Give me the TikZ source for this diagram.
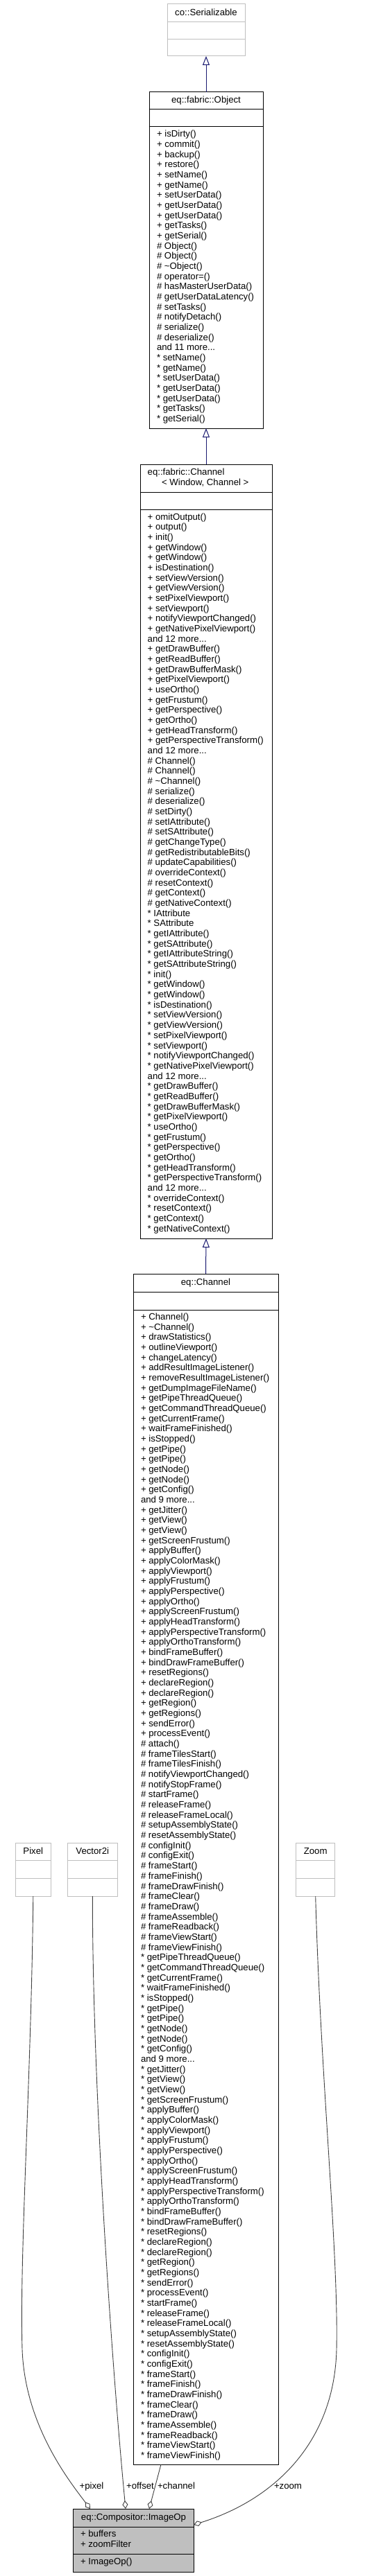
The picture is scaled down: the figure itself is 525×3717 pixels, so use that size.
\documentclass[tikz,border=0pt]{standalone}
\usepackage{fontspec}
\setmainfont{Liberation Sans}
\usetikzlibrary{arrows.meta}
\definecolor{inhblue}{RGB}{25,25,112}
\definecolor{aggray}{RGB}{64,64,64}
\definecolor{extgray}{RGB}{191,191,191}
\newcommand\mfont{\fontsize{13.2pt}{14.67pt}\selectfont}
\newcommand\mdots{...}
\newcommand\mlist[4]{%
  \foreach \t [count=\k from 0] in {#4}{%
    \node[member] (#1-\k) at ({#2},{#3+\k*14.67}) {\t};
  }%
}
\begin{document}
\begin{tikzpicture}[x=1pt,y=-1pt,
  classbox/.style={draw=black, line width=1pt, fill=white, inner sep=0pt, outer sep=0pt, anchor=north west},
  extbox/.style={classbox, draw=extgray},
  opbox/.style={classbox, fill=extgray},
  sepline/.style={line width=1pt, draw=black},
  extsep/.style={line width=1pt, draw=extgray},
  member/.style={anchor=west, inner sep=0pt, outer sep=0pt, text height=9.6pt, text depth=2.7pt, font=\mfont},
  ctitle/.style={anchor=center, inner sep=0pt, outer sep=0pt, text height=9.6pt, text depth=2.7pt, font=\mfont},
  inh/.style={draw=inhblue, line width=1pt, -{Triangle[open,length=13pt,width=10pt]}},
  agg/.style={draw=aggray, line width=0.9pt, -{Diamond[open,length=12pt,width=8pt]}},
  elabel/.style={ctitle}
]
\fill[white] (0,0) rectangle (525,3717);
\useasboundingbox (0,0) rectangle (525,3717);

% ---- co::Serializable
\node[extbox, minimum width=112pt, minimum height=75pt] (ser) at (241,6) {};
\draw[extsep] (241,32) -- (353,32);
\draw[extsep] (241,57) -- (353,57);
\node[ctitle] (ser-t) at (297,19) {co::Serializable};

% ---- eq::fabric::Object
\node[classbox, minimum width=164pt, minimum height=485pt] (obj) at (215,133) {};
\draw[sepline] (215,158) -- (379,158);
\draw[sepline] (215,183) -- (379,183);
\node[ctitle] (obj-t) at (297,145.5) {eq::fabric::Object};
\mlist{obj}{226}{194.3}{+ isDirty(), + commit(), + backup(), + restore(), + setName(), + getName(), + setUserData(), + getUserData(), + getUserData(), + getTasks(), + getSerial(), \# Object(), \# Object(), \# \textasciitilde Object(), \# operator=(), \# hasMasterUserData(), \# getUserDataLatency(), \# setTasks(), \# notifyDetach(), \# serialize(), \# deserialize(), and 11 more\mdots, * setName(), * getName(), * setUserData(), * getUserData(), * getUserData(), * getTasks(), * getSerial()}

% ---- eq::fabric::Channel< Window, Channel >
\node[classbox, minimum width=190pt, minimum height=1117pt] (fch) at (202,670) {};
\draw[sepline] (202,710) -- (392,710);
\draw[sepline] (202,735) -- (392,735);
\node[member] (fch-t1) at (212.7,681.7) {eq::fabric::Channel};
\node[member] (fch-t2) at (233,696.7) {< Window, Channel >};
\mlist{fch}{212.7}{746.7}{+ omitOutput(), + output(), + init(), + getWindow(), + getWindow(), + isDestination(), + setViewVersion(), + getViewVersion(), + setPixelViewport(), + setViewport(), + notifyViewportChanged(), + getNativePixelViewport(), and 12 more\mdots, + getDrawBuffer(), + getReadBuffer(), + getDrawBufferMask(), + getPixelViewport(), + useOrtho(), + getFrustum(), + getPerspective(), + getOrtho(), + getHeadTransform(), + getPerspectiveTransform(), and 12 more\mdots, \# Channel(), \# Channel(), \# \textasciitilde Channel(), \# serialize(), \# deserialize(), \# setDirty(), \# setIAttribute(), \# setSAttribute(), \# getChangeType(), \# getRedistributableBits(), \# updateCapabilities(), \# overrideContext(), \# resetContext(), \# getContext(), \# getNativeContext(), * IAttribute, * SAttribute, * getIAttribute(), * getSAttribute(), * getIAttributeString(), * getSAttributeString(), * init(), * getWindow(), * getWindow(), * isDestination(), * setViewVersion(), * getViewVersion(), * setPixelViewport(), * setViewport(), * notifyViewportChanged(), * getNativePixelViewport(), and 12 more\mdots, * getDrawBuffer(), * getReadBuffer(), * getDrawBufferMask(), * getPixelViewport(), * useOrtho(), * getFrustum(), * getPerspective(), * getOrtho(), * getHeadTransform(), * getPerspectiveTransform(), and 12 more\mdots, * overrideContext(), * resetContext(), * getContext(), * getNativeContext()}

% ---- eq::Channel
\node[classbox, minimum width=209pt, minimum height=1718pt] (ch) at (192,1838) {};
\draw[sepline] (192,1864) -- (401,1864);
\draw[sepline] (192,1890) -- (401,1890);
\node[ctitle] (ch-t) at (296.5,1851) {eq::Channel};
\mlist{ch}{203}{1901}{+ Channel(), + \textasciitilde Channel(), + drawStatistics(), + outlineViewport(), + changeLatency(), + addResultImageListener(), + removeResultImageListener(), + getDumpImageFileName(), + getPipeThreadQueue(), + getCommandThreadQueue(), + getCurrentFrame(), + waitFrameFinished(), + isStopped(), + getPipe(), + getPipe(), + getNode(), + getNode(), + getConfig(), and 9 more\mdots, + getJitter(), + getView(), + getView(), + getScreenFrustum(), + applyBuffer(), + applyColorMask(), + applyViewport(), + applyFrustum(), + applyPerspective(), + applyOrtho(), + applyScreenFrustum(), + applyHeadTransform(), + applyPerspectiveTransform(), + applyOrthoTransform(), + bindFrameBuffer(), + bindDrawFrameBuffer(), + resetRegions(), + declareRegion(), + declareRegion(), + getRegion(), + getRegions(), + sendError(), + processEvent(), \# attach(), \# frameTilesStart(), \# frameTilesFinish(), \# notifyViewportChanged(), \# notifyStopFrame(), \# startFrame(), \# releaseFrame(), \# releaseFrameLocal(), \# setupAssemblyState(), \# resetAssemblyState(), \# configInit(), \# configExit(), \# frameStart(), \# frameFinish(), \# frameDrawFinish(), \# frameClear(), \# frameDraw(), \# frameAssemble(), \# frameReadback(), \# frameViewStart(), \# frameViewFinish(), * getPipeThreadQueue(), * getCommandThreadQueue(), * getCurrentFrame(), * waitFrameFinished(), * isStopped(), * getPipe(), * getPipe(), * getNode(), * getNode(), * getConfig(), and 9 more\mdots, * getJitter(), * getView(), * getView(), * getScreenFrustum(), * applyBuffer(), * applyColorMask(), * applyViewport(), * applyFrustum(), * applyPerspective(), * applyOrtho(), * applyScreenFrustum(), * applyHeadTransform(), * applyPerspectiveTransform(), * applyOrthoTransform(), * bindFrameBuffer(), * bindDrawFrameBuffer(), * resetRegions(), * declareRegion(), * declareRegion(), * getRegion(), * getRegions(), * sendError(), * processEvent(), * startFrame(), * releaseFrame(), * releaseFrameLocal(), * setupAssemblyState(), * resetAssemblyState(), * configInit(), * configExit(), * frameStart(), * frameFinish(), * frameDrawFinish(), * frameClear(), * frameDraw(), * frameAssemble(), * frameReadback(), * frameViewStart(), * frameViewFinish()}

% ---- Pixel, Vector2i, Zoom
\node[extbox, minimum width=51pt, minimum height=77pt] (pix) at (22.3,2659) {};
\draw[extsep] (22.3,2684) -- (73.3,2684);
\draw[extsep] (22.3,2710) -- (73.3,2710);
\node[ctitle] (pix-t) at (47.8,2672) {Pixel};

\node[extbox, minimum width=71.3pt, minimum height=77pt] (v2) at (97.7,2659) {};
\draw[extsep] (97.7,2684) -- (169,2684);
\draw[extsep] (97.7,2710) -- (169,2710);
\node[ctitle] (v2-t) at (133.3,2672) {Vector2i};

\node[extbox, minimum width=56pt, minimum height=77pt] (zm) at (426.7,2659) {};
\draw[extsep] (426.7,2684) -- (482.7,2684);
\draw[extsep] (426.7,2710) -- (482.7,2710);
\node[ctitle] (zm-t) at (454.7,2672) {Zoom};

% ---- eq::Compositor::ImageOp
\node[opbox, minimum width=173.6pt, minimum height=91pt] (io) at (105.7,3620) {};
\draw[sepline] (105.7,3646) -- (279.3,3646);
\draw[sepline] (105.7,3685) -- (279.3,3685);
\node[ctitle] (io-t) at (192.5,3633) {eq::Compositor::ImageOp};
\node[member] (io-a1) at (116,3657) {+ buffers};
\node[member] (io-a2) at (116,3672) {+ zoomFilter};
\node[member] (io-m1) at (116,3697) {+ ImageOp()};

% ---- inheritance
\draw[inh] (obj.north) -- (ser.south);
\draw[inh] (fch.north) -- (obj.south);
\draw[inh] (ch.north) -- (fch.south);

% ---- aggregation
\draw[agg] (pix.south) .. controls (45,3000) and (28,3250) .. (32,3390)
  .. controls (36,3500) and (100,3580) .. ([xshift=24.3pt]io.north west);
\draw[agg] (v2.south) .. controls (133,3000) and (160,3400) .. ([xshift=75.3pt]io.north west);
\draw[agg] ([xshift=40pt]ch.south west) -- ([xshift=109.3pt]io.north west);
\draw[agg] (zm.south) .. controls (462,3000) and (488,3250) .. (485,3390)
  .. controls (482,3520) and (400,3605) .. ([yshift=-23pt]io.north east);

\node[elabel] (l-pix) at (132,3588) {+pixel};
\node[elabel] (l-off) at (202,3588) {+offset};
\node[elabel] (l-ch) at (254,3588) {+channel};
\node[elabel] (l-zm) at (415,3588) {+zoom};
\end{tikzpicture}
\end{document}
